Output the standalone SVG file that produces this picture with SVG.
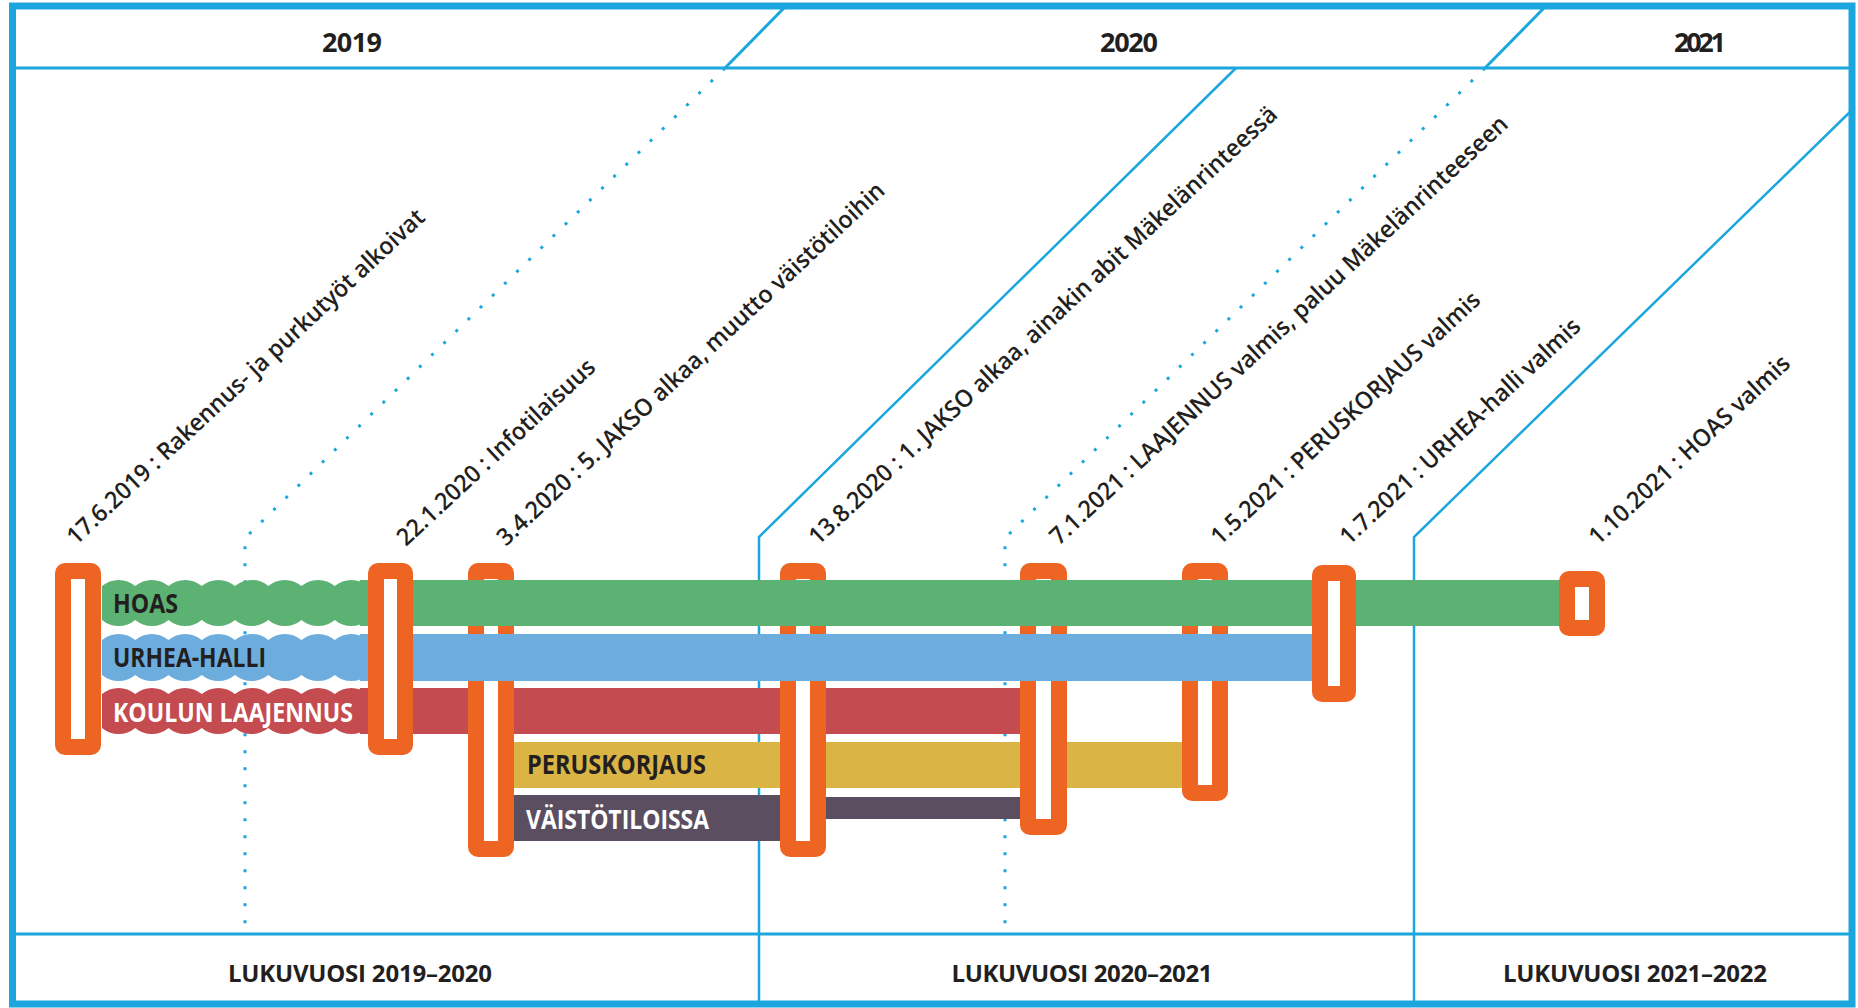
<svg xmlns="http://www.w3.org/2000/svg" width="1858" height="1008" viewBox="0 0 1858 1008">
<style>
.frame{fill:none;stroke:#1ba6de;stroke-width:7}
.ln{fill:none;stroke:#1ba6de;stroke-width:2.5}
.hl{fill:none;stroke:#1ba6de;stroke-width:3}
.dot{fill:none;stroke:#1ba6de;stroke-width:3;stroke-dasharray:3 14}
.mk{fill:#fff;stroke:#ee6523;stroke-width:16}
.ev{font-family:"Open Sans","Liberation Sans",sans-serif;font-weight:600;font-size:24px;fill:#231f20}
.lab{font-family:"Open Sans","Liberation Sans",sans-serif;font-weight:700;font-size:27px}
.yr{font-family:"Open Sans","Liberation Sans",sans-serif;font-weight:700;font-size:27px;fill:#231f20;text-anchor:middle}
.lv{font-family:"Open Sans","Liberation Sans",sans-serif;font-weight:700;font-size:24px;fill:#231f20;text-anchor:middle}
.dark{fill:#231f20}
.light{fill:#ffffff}
.green{fill:#5bb273}
.blue{fill:#6daddd}
.red{fill:#c44b4f}
.yellow{fill:#dab445}
.purple{fill:#5b4e60}
</style>
<rect x="0" y="0" width="1858" height="1008" fill="#fff"/>
<g id="connectors">
  <rect class="frame" x="12.5" y="6" width="1839.5" height="998"/>
  <line class="hl" x1="12" y1="68" x2="1852" y2="68"/>
  <line class="hl" x1="12" y1="934" x2="1852" y2="934"/>
  <line class="hl" x1="784" y1="8" x2="725" y2="68"/>
  <line class="hl" x1="1544" y1="8" x2="1485" y2="68"/>
  <polyline class="dot" points="725,68 245,538 245,934"/>
  <polyline class="dot" points="1485,68 1005,538 1005,934"/>
  <polyline class="ln" points="1236,68 759,537 759,1004"/>
  <polyline class="ln" points="1852,110 1414,537 1414,1004"/>
</g>
<g id="years">
  <text class="yr" x="352" y="52" textLength="60">2019</text>
  <text class="yr" x="1129" y="52" textLength="58">2020</text>
  <text class="yr" x="1700" y="52" textLength="52">2021</text>
</g>
<g id="school-years">
  <text class="lv" x="360" y="982" textLength="264">LUKUVUOSI 2019–2020</text>
  <text class="lv" x="1082" y="982" textLength="261">LUKUVUOSI 2020–2021</text>
  <text class="lv" x="1635" y="982" textLength="264">LUKUVUOSI 2021–2022</text>
</g>
<g id="bar-koulun-laajennus">
  <path class="red" d="M102,694 a26,26 0 0 1 33.25,0 a26,26 0 0 1 33.25,0 a26,26 0 0 1 33.25,0 a26,26 0 0 1 33.25,0 a26,26 0 0 1 33.25,0 a26,26 0 0 1 33.25,0 a26,26 0 0 1 33.25,0 a26,26 0 0 1 33.25,0 L368,728 a26,26 0 0 1 -33.25,0 a26,26 0 0 1 -33.25,0 a26,26 0 0 1 -33.25,0 a26,26 0 0 1 -33.25,0 a26,26 0 0 1 -33.25,0 a26,26 0 0 1 -33.25,0 a26,26 0 0 1 -33.25,0 a26,26 0 0 1 -33.25,0 Z"/>
  <rect class="red" x="360" y="688" width="660" height="46"/>
  <text class="lab light" x="113" y="722" textLength="240" lengthAdjust="spacingAndGlyphs">KOULUN LAAJENNUS</text>
</g>
<g id="bar-peruskorjaus">
  <rect class="yellow" x="500" y="742" width="685" height="46"/>
  <text class="lab dark" x="527" y="774" textLength="179" lengthAdjust="spacingAndGlyphs">PERUSKORJAUS</text>
</g>
<g id="bar-vaistotiloissa">
  <rect class="purple" x="500" y="795" width="285" height="46"/>
  <rect class="purple" x="820" y="797" width="205" height="22"/>
  <text class="lab light" x="526" y="829" textLength="183" lengthAdjust="spacingAndGlyphs">VÄISTÖTILOISSA</text>
</g>
<g id="event-3">
  <rect class="mk" x="476" y="571" width="30" height="278" rx="2"/>
  <text class="ev" transform="translate(506,547) rotate(-43)" textLength="520" lengthAdjust="spacingAndGlyphs">3.4.2020 : 5. JAKSO alkaa, muutto väistötiloihin</text>
</g>
<g id="event-4">
  <rect class="mk" x="788" y="571" width="30" height="278" rx="2"/>
  <text class="ev" transform="translate(818,546) rotate(-43)" textLength="630" lengthAdjust="spacingAndGlyphs">13.8.2020 : 1. JAKSO alkaa, ainakin abit Mäkelänrinteessä</text>
</g>
<g id="event-5">
  <rect class="mk" x="1028" y="571" width="31" height="256" rx="2"/>
  <text class="ev" transform="translate(1059,546) rotate(-43)" textLength="616" lengthAdjust="spacingAndGlyphs">7.1.2021 : LAAJENNUS valmis, paluu Mäkelänrinteeseen</text>
</g>
<g id="event-6">
  <rect class="mk" x="1190" y="571" width="30" height="222" rx="2"/>
  <text class="ev" transform="translate(1220,546) rotate(-43)" textLength="358" lengthAdjust="spacingAndGlyphs">1.5.2021 : PERUSKORJAUS valmis</text>
</g>
<g id="bar-hoas">
  <path class="green" d="M102,586 a26,26 0 0 1 33.25,0 a26,26 0 0 1 33.25,0 a26,26 0 0 1 33.25,0 a26,26 0 0 1 33.25,0 a26,26 0 0 1 33.25,0 a26,26 0 0 1 33.25,0 a26,26 0 0 1 33.25,0 a26,26 0 0 1 33.25,0 L368,620 a26,26 0 0 1 -33.25,0 a26,26 0 0 1 -33.25,0 a26,26 0 0 1 -33.25,0 a26,26 0 0 1 -33.25,0 a26,26 0 0 1 -33.25,0 a26,26 0 0 1 -33.25,0 a26,26 0 0 1 -33.25,0 a26,26 0 0 1 -33.25,0 Z"/>
  <rect class="green" x="360" y="580" width="1201" height="46"/>
  <text class="lab dark" x="113" y="613" textLength="65" lengthAdjust="spacingAndGlyphs">HOAS</text>
</g>
<g id="bar-urhea-halli">
  <path class="blue" d="M102,640 a26,26 0 0 1 33.25,0 a26,26 0 0 1 33.25,0 a26,26 0 0 1 33.25,0 a26,26 0 0 1 33.25,0 a26,26 0 0 1 33.25,0 a26,26 0 0 1 33.25,0 a26,26 0 0 1 33.25,0 a26,26 0 0 1 33.25,0 L368,675 a26,26 0 0 1 -33.25,0 a26,26 0 0 1 -33.25,0 a26,26 0 0 1 -33.25,0 a26,26 0 0 1 -33.25,0 a26,26 0 0 1 -33.25,0 a26,26 0 0 1 -33.25,0 a26,26 0 0 1 -33.25,0 a26,26 0 0 1 -33.25,0 Z"/>
  <rect class="blue" x="360" y="634" width="952" height="47"/>
  <text class="lab dark" x="113" y="667" textLength="153" lengthAdjust="spacingAndGlyphs">URHEA-HALLI</text>
</g>
<g id="event-1">
  <rect class="mk" x="63" y="571" width="30" height="176" rx="2"/>
  <text class="ev" transform="translate(76,546) rotate(-43)" textLength="479" lengthAdjust="spacingAndGlyphs">17.6.2019 : Rakennus- ja purkutyöt alkoivat</text>
</g>
<g id="event-2">
  <rect class="mk" x="376" y="571" width="29" height="176" rx="2"/>
  <text class="ev" transform="translate(406,547) rotate(-43)" textLength="261" lengthAdjust="spacingAndGlyphs">22.1.2020 : Infotilaisuus</text>
</g>
<g id="event-7">
  <rect class="mk" x="1320" y="573" width="28" height="121" rx="2"/>
  <text class="ev" transform="translate(1349,546) rotate(-43)" textLength="319" lengthAdjust="spacingAndGlyphs">1.7.2021 : URHEA-halli valmis</text>
</g>
<g id="event-8">
  <rect class="mk" x="1567" y="579" width="30" height="49" rx="2"/>
  <text class="ev" transform="translate(1598,546) rotate(-43)" textLength="265" lengthAdjust="spacingAndGlyphs">1.10.2021 : HOAS valmis</text>
</g>
</svg>
